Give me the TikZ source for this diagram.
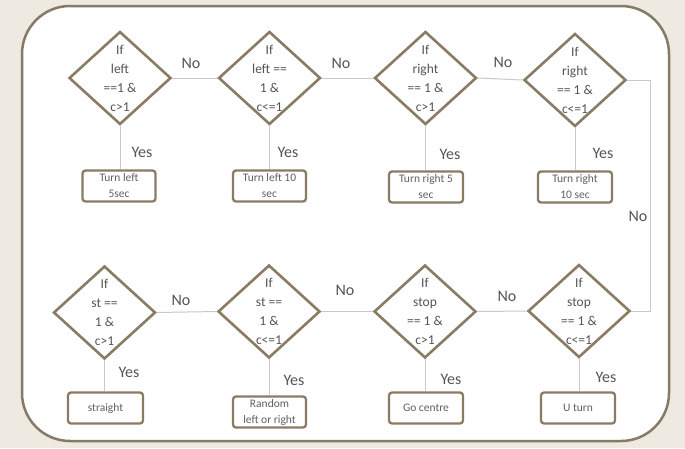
\documentclass[tikz,border=0pt]{standalone}
\usepackage{fontspec}
\setmainfont{Carlito}
\usetikzlibrary{shapes.geometric}
\definecolor{bgc}{HTML}{EEEAE1}
\definecolor{frm}{HTML}{857A66}
\definecolor{dia}{HTML}{8A7C64}
\definecolor{lineclr}{HTML}{C9C9C9}
\definecolor{txt}{HTML}{555555}
\definecolor{btxt}{HTML}{606060}
\begin{document}
\begin{tikzpicture}[x=1pt,y=-1pt,
  dshape/.style={diamond, draw=dia, line width=2.6pt, minimum width=102pt, minimum height=93pt, inner sep=0pt},
  dtext/.style={align=center, text=txt, font=\fontsize{13.5}{19}\selectfont, inner sep=0pt},
  abox/.style={draw=dia, line width=2.3pt, rounded corners=3pt, minimum width=73pt, minimum height=31pt, align=center, text=btxt, font=\fontsize{11.5}{16}\selectfont, inner sep=1pt},
  lbl/.style={text=txt, font=\fontsize{16}{18}\selectfont, inner sep=0pt},
  conn/.style={draw=lineclr, line width=1pt}]
\useasboundingbox (0,0) rectangle (685,448);
\fill[bgc] (0,0) rectangle (685,448);
\draw[frm, line width=2.5pt, fill=white, rounded corners=48pt] (22,6) rectangle (669,441);

% diamonds row 1
\node[dshape] (d1) at (120,78) {};
\node[dshape] (d2) at (269.5,78) {};
\node[dshape] (d3) at (425.5,78) {};
\node[dshape] (d4) at (575,80) {};
\node[dtext] (t1) at (d1) {If\\left\\==1 \&\\c>1};
\node[dtext] (t2) at (d2) {If\\left ==\\1 \&\\c<=1};
\node[dtext] (t3) at (d3) {If\\right\\== 1 \&\\c>1};
\node[dtext] (t4) at (d4) {If\\right\\== 1 \&\\c<=1};

% boxes row 1
\node[abox] (b1) at (119,186) {Turn left\\5sec};
\node[abox] (b2) at (269.5,186) {Turn left 10\\sec};
\node[abox, minimum width=74pt] (b3) at (426,187) {Turn right 5\\sec};
\node[abox, minimum width=74pt] (b4) at (575,187) {Turn right\\10 sec};

% diamonds row 2
\node[dshape] (d5) at (104.5,312.5) {};
\node[dshape] (d6) at (269,311.5) {};
\node[dshape] (d7) at (425,311.5) {};
\node[dshape] (d8) at (579,311) {};
\node[dtext] (t5) at (d5) {If\\st ==\\1 \&\\c>1};
\node[dtext] (t6) at (d6) {If\\st ==\\1 \&\\c<=1};
\node[dtext] (t7) at (d7) {If\\stop\\== 1 \&\\c>1};
\node[dtext] (t8) at (d8) {If\\stop\\== 1 \&\\c<=1};

% boxes row 2
\node[abox, minimum width=75pt] (b5) at (105.5,408) {straight};
\node[abox] (b6) at (269.5,412) {Random\\left or right};
\node[abox, minimum width=74pt] (b7) at (426,408) {Go centre};
\node[abox, minimum width=74pt] (b8) at (578,408) {U turn};

% connectors
\draw[conn] (d1.south) -- (d1.south |- b1.north);
\draw[conn] (d2.south) -- (d2.south |- b2.north);
\draw[conn] (d3.south) -- (d3.south |- b3.north);
\draw[conn] (d4.south) -- (d4.south |- b4.north);
\draw[conn] (d5.south) -- (d5.south |- b5.north);
\draw[conn] (d6.south) -- (d6.south |- b6.north);
\draw[conn] (d7.south) -- (d7.south |- b7.north);
\draw[conn] (d8.south) -- (d8.south |- b8.north);
\draw[conn] (d1.east) -- (d2.west);
\draw[conn] (d2.east) -- (d3.west);
\draw[conn] (d3.east) -- (d4.west);
\coordinate (rc) at (650,80);
\draw[conn] (d4.east) -- (d4.east -| rc) |- (d8.east);
\draw[conn] (d8.west) -- (d7.east);
\draw[conn] (d7.west) -- (d6.east);
\draw[conn] (d6.west) -- (d5.east);

% labels
\node[lbl] (n1) at (191,63) {No};
\node[lbl] (n2) at (341,63) {No};
\node[lbl] (n3) at (503,62) {No};
\node[lbl] (n4) at (638,216) {No};
\node[lbl] (n5) at (181,300) {No};
\node[lbl] (n6) at (345,290) {No};
\node[lbl] (n7) at (507,296) {No};
\node[lbl] (y1) at (142,152) {Yes};
\node[lbl] (y2) at (288,152) {Yes};
\node[lbl] (y3) at (450,154) {Yes};
\node[lbl] (y4) at (603,153) {Yes};
\node[lbl] (y5) at (129,372) {Yes};
\node[lbl] (y6) at (294,380) {Yes};
\node[lbl] (y7) at (451,379) {Yes};
\node[lbl] (y8) at (606,377) {Yes};
\end{tikzpicture}
\end{document}
